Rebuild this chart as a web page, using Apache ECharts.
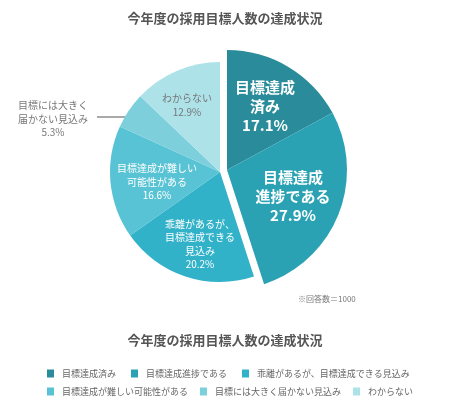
<!DOCTYPE html>
<html><head><meta charset="utf-8">
<script src="https://cdn.jsdelivr.net/npm/echarts@6/dist/echarts.min.js"></script>
<style>html,body{margin:0;padding:0;background:#fff}#c{width:450px;height:403px}</style>
</head><body><div id="c"></div>
<script>
const chartTitle = '今年度の採用目標人数の達成状況';
const note = '※回答数＝1000';
const categories = ['目標達成済み','目標達成進捗である','乖離があるが、目標達成できる見込み','目標達成が難しい可能性がある','目標には大きく届かない見込み','わからない'];
const labelTexts = ['目標達成\n済み','目標達成\n進捗である','乖離があるが、\n目標達成できる\n見込み','目標達成が難しい\n可能性がある','目標には大きく\n届かない見込み','わからない'];
const values = [17.1, 27.9, 20.2, 16.6, 5.3, 12.9];
const colors = ['#2a8c9a','#2aa2b4','#31b2c8','#58c3d4','#7dcfdc','#ade2e9'];

const FONT = '"Noto Sans CJK JP", "Noto Sans", sans-serif';
const highlightCount = 2;
const outsideIndex = 4;
const sumHi = values.slice(0, highlightCount).reduce((a,b)=>a+b,0);
const sumLo = values.slice(highlightCount).reduce((a,b)=>a+b,0);

// label centre positions (layout only)
const labelPos = {0:[265,106],1:[293,196],2:[200,244],3:[157,182],4:[53,119],5:[187,105]};

function item(i){
  const big = i < 2;
  const outside = i === outsideIndex;
  return {
    name: categories[i], value: values[i],
    itemStyle:{color: colors[i]},
    label:{
      show:true,
      position: outside ? 'outside' : 'inside',
      formatter: labelTexts[i] + '\n' + values[i].toFixed(1) + '%',
      color: (i===4||i===5) ? '#777' : '#fff',
      fontFamily: FONT,
      fontSize: big ? 15 : 10,
      fontWeight: big ? 'bold' : 'normal',
      lineHeight: big ? 19 : 13.5,
      align:'center'
    },
    labelLine: outside ? {show:true, showAbove:true, length:5, length2:5, lineStyle:{color:'#555', width:1}} : {show:false}
  };
}
const blank = (v)=>({name:'_blank', value:v, itemStyle:{color:'transparent'}, label:{show:false}, labelLine:{show:false}});

const hiData = [item(0), item(1), blank(sumLo)];
const loData = [blank(sumHi), item(2), item(3), item(4), item(5)];

function layoutFn(params){
  const i = params.seriesIndex === 1 ? params.dataIndex : params.dataIndex + highlightCount - 1;
  const p = labelPos[i];
  if (!p) return {};
  const out = {x:p[0], y:p[1], align:'center', verticalAlign:'middle'};
  if (i === outsideIndex) out.labelLinePoints = [[143,117],[120,117],[97,117]];
  return out;
}

const chart = echarts.init(document.getElementById('c'), null, {renderer:'canvas'});
const legendCommon = {
  icon:'rect', itemWidth:7, itemHeight:8, selectedMode:false,
  textStyle:{fontFamily:FONT, fontSize:9, color:'#666', padding:[0,0,0,3]}
};
chart.setOption({
  animation:false,
  color: colors,
  title:[
    {text: chartTitle, left:'center', top:7, textStyle:{fontFamily:FONT, fontSize:13, fontWeight:'bold', color:'#555'}},
    {text: chartTitle, left:'center', top:329, textStyle:{fontFamily:FONT, fontSize:13, fontWeight:'bold', color:'#555'}},
    {text: note, left:293, top:290, textStyle:{fontFamily:FONT, fontSize:8, fontWeight:'normal', color:'#777'}}
  ],
  legend:[
    Object.assign({left:42, top:364, itemGap:15, data: categories.slice(0,3)}, legendCommon),
    Object.assign({left:42, top:382, itemGap:12, data: categories.slice(3)}, legendCommon)
  ],
  series:[
    {type:'pie', center:[220,172], radius:[0,110], startAngle:90, clockwise:true,
     data: loData, emphasis:{disabled:true}, silent:true, labelLayout: layoutFn},
    {type:'pie', center:[227,170], radius:[0,120], startAngle:90, clockwise:true,
     data: hiData, emphasis:{disabled:true}, silent:true, labelLayout: layoutFn}
  ]
});
</script></body></html>
